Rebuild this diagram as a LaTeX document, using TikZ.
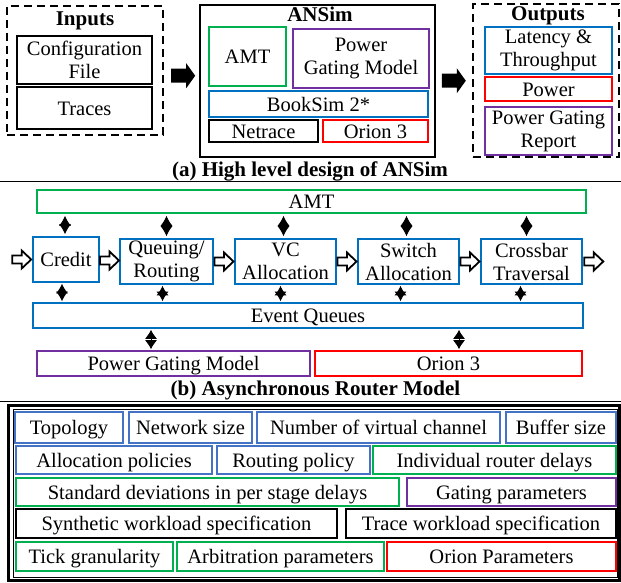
\documentclass[tikz,border=0pt]{standalone}
\usepackage{fontspec}
\setmainfont{Liberation Serif}
\usetikzlibrary{arrows.meta,calc}
\definecolor{cblue}{HTML}{0070C0}
\definecolor{lblue}{HTML}{4472C4}
\definecolor{cgreen}{HTML}{00B050}
\definecolor{cpurple}{HTML}{7030A0}
\definecolor{cred}{HTML}{FF0000}

\tikzset{
  % hollow flow arrow and solid arrow between the blocks
  harrow/.pic={\draw[line width=1.8pt,fill=white,line join=miter]
    (-9.5,-4) -- (0,-4) -- (0,-9) -- (9.5,0) -- (0,9) -- (0,4) -- (-9.5,4) -- cycle;},
  barrow/.pic={\fill[black]
    (-12,-7) -- (3,-7) -- (3,-12.5) -- (12,0) -- (3,12.5) -- (3,7) -- (-12,7) -- cycle;}
}

\begin{document}
\begin{tikzpicture}[x=1pt,y=-1pt,
  box/.style={draw=#1,line width=1.6pt,inner sep=0pt,align=center,
    font=\fontsize{20.5}{23}\selectfont,text height=14.5pt,text depth=0pt},
  box/.default=black,
  two/.style={text height={},text depth={},yshift=-2pt},
  sz/.style 2 args={minimum width=#1pt,minimum height=#2pt},
  dashbox/.style={draw,line width=2.4pt,dash pattern=on 8pt off 5pt,inner sep=0pt},
  ttl/.style={font=\bfseries\fontsize{21}{22}\selectfont,inner sep=0pt,text height=14.5pt,text depth=0pt},
  dia/.style={{Latex[length=#1,width=12pt]}-{Latex[length=#1,width=12pt]},line width=1pt}]
  \useasboundingbox (0,0) rectangle (621,583);

  % (a) high level design
  \node[dashbox,sz={156}{129}] (inputs) at (85,70.5) {};
  \node[ttl] (inputsttl) at (85,18.75) {Inputs};
  \node[box,two,sz={135}{48}] (config) at (84.5,58) {Configuration\\File};
  \node[box,sz={135}{42}] (traces) at (84.5,108) {Traces};

  \node[box,sz={235}{152}] (ansim) at (317.5,81) {};
  \node[ttl] (ansimttl) at (320,14.5) {ANSim};
  \node[box=cgreen,sz={77}{59}] (amt) at (247.5,56.5) {AMT};
  \node[box=cpurple,two,sz={136}{59}] (pgm) at (361,56.5) {Power\\Gating Model};
  \node[box=cblue,sz={219}{26}] (booksim) at (318.5,104) {BookSim 2*};
  \node[box,sz={109}{22}] (netrace) at (263.5,131) {Netrace};
  \node[box=cred,sz={105}{22}] (orion) at (375.5,131) {Orion 3};

  \node[dashbox,sz={146}{153}] (outputs) at (546,80.5) {};
  \node[ttl] (outputsttl) at (548,13.5) {Outputs};
  \node[box=cblue,two,sz={127}{47}] (latency) at (548.5,48.5) {Latency \&\\Throughput};
  \node[box=cred,sz={127}{24}] (power) at (548.5,89) {Power};
  \node[box=cpurple,two,sz={127}{48}] (pgr) at (548.5,129) {Power Gating\\Report};

  \pic (arrin) at ($(inputs.east)!0.5!(ansim.west)+(1.5,0)$) {barrow};
  \pic (arrout) at ($(ansim.east)!0.5!(outputs.west)$) {barrow};

  \node[ttl] (capa) at (310,169.5) {(a) High level design of ANSim};
  \draw[line width=0.8pt] (0,181) -- (621,181);

  % (b) asynchronous router model
  \node[box=cgreen,sz={549}{23}] (amtbar) at (311.5,201.5) {AMT};
  \node[box=cblue,sz={66}{45}] (credit) at (66,259.5) {Credit};
  \node[box=cblue,two,sz={93}{45}] (queuing) at (166.5,259.5) {Queuing/\\Routing};
  \node[box=cblue,two,sz={101}{45}] (vc) at (285.5,259.5) {VC\\Allocation};
  \node[box=cblue,two,sz={101}{45}] (sa) at (408.5,259.5) {Switch\\Allocation};
  \node[box=cblue,two,sz={101}{45}] (ct) at (531.5,259.5) {Crossbar\\Traversal};
  \node[box=cblue,sz={550}{25}] (eq) at (308,315.5) {Event Queues};
  \node[box=cpurple,sz={273}{25}] (pgm2) at (173.5,363.5) {Power Gating Model};
  \node[box=cred,sz={267}{25}] (orion2) at (448.5,363.5) {Orion 3};

  \pic (hin) at ([xshift=-10.5pt]credit.west) {harrow};
  \pic (h1) at ($(credit.east)!0.5!(queuing.west)$) {harrow};
  \pic (h2) at ($(queuing.east)!0.5!(vc.west)$) {harrow};
  \pic (h3) at ($(vc.east)!0.5!(sa.west)$) {harrow};
  \pic (h4) at ($(sa.east)!0.5!(ct.west)$) {harrow};
  \pic (hout) at ([xshift=11pt]ct.east) {harrow};

  \foreach \n/\u/\l in {credit/-1/-4,queuing/0/-4,vc/-2/-5,sa/-2/-8,ct/-5/-11} {
    \draw[dia=10pt,shorten <=2pt,shorten >=2pt] ([xshift=\u pt]\n.north) -- ([xshift=\u pt]\n.north |- amtbar.south);
    \draw[dia=9.5pt,shorten <=1pt,shorten >=1pt] ([xshift=\l pt]\n.south) -- ([xshift=\l pt]\n.south |- eq.north);
  }
  \draw[dia=9pt,shorten <=1pt,shorten >=1pt] ([xshift=-22.5pt]pgm2.north) -- ([xshift=-22.5pt]pgm2.north |- eq.south);
  \draw[dia=9pt,shorten <=1pt,shorten >=1pt] ([xshift=10.5pt]orion2.north) -- ([xshift=10.5pt]orion2.north |- eq.south);

  \node[ttl] (capb) at (315.5,387.8) {(b) Asynchronous Router Model};
  \draw[line width=0.8pt] (0,401) -- (621,401);

  % parameters
  \draw[line width=2.6pt] (8.5,405.5) rectangle (619.5,580.5);
  \draw[line width=0.9pt] (13,409.5) rectangle (617,577);
  \foreach \n/\cx/\cy/\w/\h/\c/\t in {
      topo/69/427.5/108/31/lblue/Topology,
      netsize/190.5/427.5/123/31/lblue/Network size,
      numvc/378.5/427.5/243/31/lblue/Number of virtual channel,
      buf/561/427.5/110/31/lblue/Buffer size,
      alloc/114/460/196/28/lblue/Allocation policies,
      routing/293.5/460/153/28/lblue/Routing policy,
      indiv/494.5/460/243/28/cgreen/Individual router delays,
      stddev/207.5/492/383/28/cgreen/Standard deviations in per stage delays,
      gating/511.5/492/209/28/cpurple/Gating parameters,
      synth/176.5/523.5/321/29/black/Synthetic workload specification,
      trace/481/523.5/270/29/black/Trace workload specification,
      tick/94.5/556.5/157/29/cgreen/Tick granularity,
      arb/280.5/556.5/207/29/cgreen/Arbitration parameters,
      orionp/501.5/556.5/229/29/cred/Orion Parameters}
    \node[box=\c,sz={\w}{\h}] (\n) at (\cx,\cy) {\t};
\end{tikzpicture}
\end{document}
